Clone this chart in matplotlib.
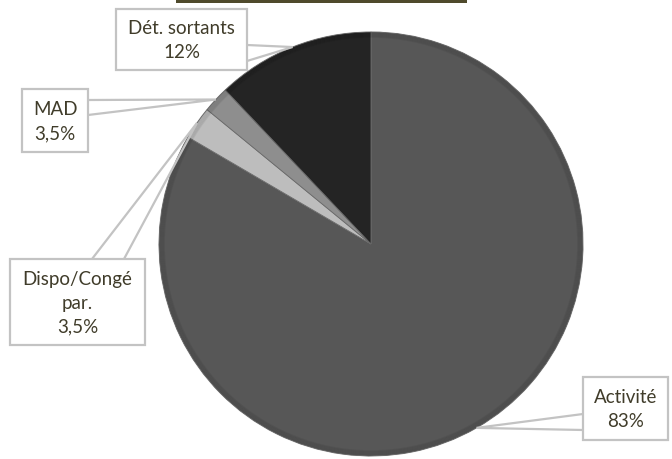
import numpy as np
import matplotlib
matplotlib.use("Agg")
import matplotlib.pyplot as plt
from matplotlib.patches import Polygon, Rectangle

# ───────── données ─────────
categories = ["Activité", "Dispo/Congé\npar.", "MAD", "Dét. sortants"]
values = [83, 2.5, 2.0, 12]
label_pct = ["83%", "3,5%", "3,5%", "12%"]
colors = ["#575757", "#bdbdbd", "#8e8e8e", "#242424"]

W, H = 672, 460
CX, CY, R = 371, 245, 212          # centre / rayon en pixels (y vers le bas)

# boîtes des étiquettes : (x0, y0, x1, y1) en pixels, base du triangle
boxes = [(583, 378, 668, 441), (10, 260, 145, 346), (22, 90, 88, 153), (116, 10, 247, 71)]
bases = [((583, 415), (583, 431)), ((92, 260), (124, 260)),
         ((88, 101), (88, 116)), ((247, 46), (247, 62))]

TXT = "#403c2a"
EDGE = "#c3c3c3"

fig = plt.figure(figsize=(W / 100, H / 100), dpi=100)
ax = fig.add_axes([0, 0, 1, 1])

wedges, _ = ax.pie(values, colors=colors, startangle=90, counterclock=False,
                   center=(CX, H - CY), radius=R, frame=True,
                   wedgeprops=dict(edgecolor="#6a6a6a", linewidth=0.6))
ax.set_xlim(0, W)
ax.set_ylim(0, H)
ax.set_aspect("equal")
ax.axis("off")

# ombre douce sur le bord
for k in range(6):
    ax.add_patch(plt.Circle((CX, H - CY), R - k, fill=False,
                            ec=(0, 0, 0, 0.06), lw=1.2, zorder=3))

# ───────── étiquettes avec bulles ─────────
for w, name, pct, box, base in zip(wedges, categories, label_pct, boxes, bases):
    mid = np.deg2rad((w.theta1 + w.theta2) / 2)
    ax_pt = (CX + R * np.cos(mid), (H - CY) + R * np.sin(mid))
    tri = [(base[0][0], H - base[0][1]), ax_pt, (base[1][0], H - base[1][1])]
    ax.add_patch(Polygon(tri, closed=False, fill=False, ec=EDGE, lw=1.6, zorder=5))
    x0, y0, x1, y1 = box
    ax.add_patch(Rectangle((x0, H - y1), x1 - x0, y1 - y0, fc="white",
                           ec=EDGE, lw=1.6, zorder=6))
    ax.text((x0 + x1) / 2, H - (y0 + y1) / 2, f"{name}\n{pct}", ha="center",
            va="center", fontsize=13.5, family="Lato", color=TXT,
            linespacing=1.5, zorder=7)

# bandeau de titre (coupé en haut)
fig.patches.append(Rectangle((176 / W, 1 - 4 / H), (467 - 176) / W, 4 / H,
                             transform=fig.transFigure, fc="#4f4a2c", ec="none"))

fig.savefig("out.png", dpi=100)
